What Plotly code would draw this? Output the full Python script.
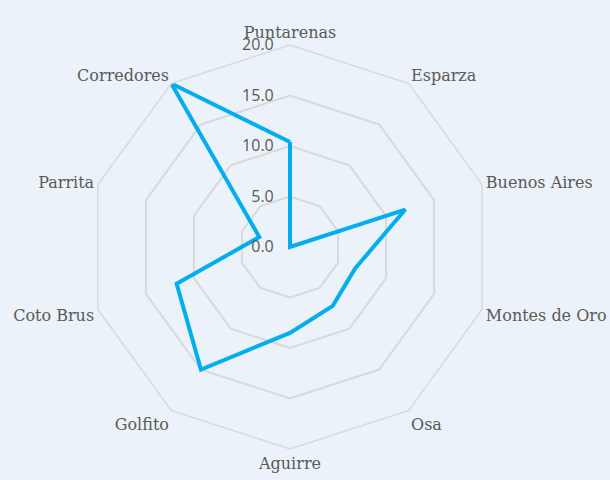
import plotly.graph_objects as go

categories = ["Puntarenas", "Esparza", "Buenos Aires", "Montes de Oro", "Osa",
              "Aguirre", "Golfito", "Coto Brus", "Parrita", "Corredores"]
values = [10.4, 0.0, 12.0, 6.8, 7.2, 8.5, 15.0, 11.8, 3.2, 20.0]
radial_ticks = [0, 5, 10, 15, 20]
radial_tick_labels = ["0.0", "5.0", "10.0", "15.0", "20.0"]

fig = go.Figure()
fig.add_trace(go.Scatterpolar(
    r=values + values[:1],
    theta=categories + categories[:1],
    mode="lines",
    line=dict(color="#00AEEF", width=4),
    showlegend=False,
))

serif = "'DejaVu Serif', Georgia, serif"
sans = "'Open Sans', sans-serif"
bg = "#EBF2FA"
pad = "<span style='color:rgba(0,0,0,0)'>0.</span>"
fig.update_layout(
    width=610, height=480,
    paper_bgcolor=bg,
    plot_bgcolor=bg,
    margin=dict(l=88, r=118, t=45, b=31),
    font=dict(family=serif, color="#595959", size=16),
    polar=dict(
        bgcolor=bg,
        gridshape="linear",
        domain=dict(x=[0, 1], y=[0, 1]),
        radialaxis=dict(
            range=[0, 20],
            tickmode="array",
            tickvals=radial_ticks,
            ticktext=[t + pad for t in radial_tick_labels],
            angle=90,
            tickangle=90,
            side="counterclockwise",
            showline=False,
            gridcolor="#D9D9D9",
            gridwidth=1.5,
            ticks="",
            tickfont=dict(family=sans, size=16, color="#595959"),
        ),
        angularaxis=dict(
            direction="clockwise",
            rotation=90,
            showgrid=False,
            showline=True,
            linecolor="#D9D9D9",
            linewidth=1.5,
            ticks="",
            tickfont=dict(family=serif, size=16, color="#595959"),
        ),
    ),
)

fig.write_html(
    "out.html",
    config={"displayModeBar": False},
    post_script="document.body.style.margin='0';document.body.style.background='%s';" % bg,
)
